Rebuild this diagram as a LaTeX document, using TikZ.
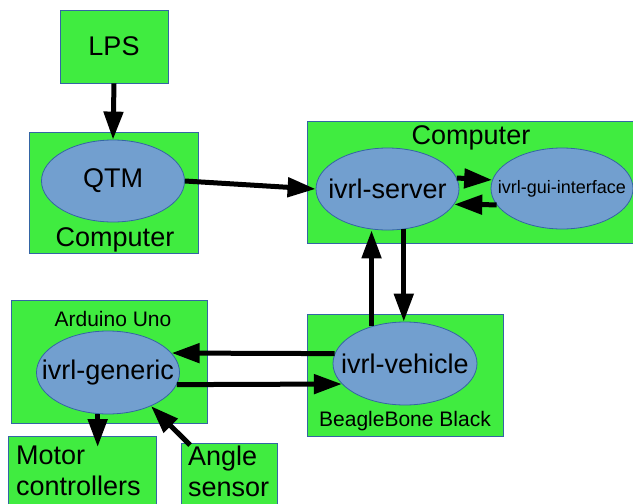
\documentclass[tikz,border=0pt]{standalone}
\usepackage{fontspec}
\setmainfont{Liberation Sans}
\usetikzlibrary{arrows.meta,shapes.geometric}

\definecolor{boardgreen}{RGB}{64,236,64}
\definecolor{edgeblue}{RGB}{52,101,164}
\definecolor{procblue}{RGB}{114,159,207}

% program names must not stretch the ellipses
\newcommand\procname[1]{\makebox[0pt]{#1}}

\tikzset{
    bigtext/.style={font=\fontsize{27pt}{31pt}\selectfont},
    midtext/.style={font=\fontsize{21pt}{25pt}\selectfont},
    board/.style={rectangle, draw=edgeblue, fill=boardgreen, line width=0.8pt, inner sep=0pt},
    proc/.style={ellipse, draw=edgeblue, fill=procblue, line width=0.8pt, inner sep=0pt,
        minimum width=143pt, minimum height=82pt, bigtext},
    flow/.style={-{Triangle[length=28pt,width=19pt]}, line width=5pt},
}

\begin{document}
\begin{tikzpicture}[x=1pt, y=-1pt]
    \useasboundingbox (0,0) rectangle (633,504);
    \clip (0,0) rectangle (633,504);

    % boards
    \node[board, bigtext, minimum width=108pt, minimum height=73pt] (lps) at (114,46.5) {LPS};
    \node[board, minimum width=169pt, minimum height=121pt] (pcleft) at (113.5,192.5) {};
    \node[board, minimum width=340pt, minimum height=122pt] (pcright) at (477,182) {};
    \node[board, minimum width=196pt, minimum height=122pt] (bbb) at (405,375) {};
    \node[board, minimum width=196pt, minimum height=123pt] (uno) at (109,361.5) {};
    \node[board, anchor=north west, minimum width=148pt, minimum height=80pt] (motor) at (8,436) {};
    \node[board, anchor=north west, minimum width=96pt, minimum height=80pt] (angle) at (181,443) {};

    % board names
    \node[bigtext, anchor=base, inner sep=0pt] (pcleftname) at (115,246) {Computer};
    \node[bigtext, anchor=base, inner sep=0pt] (pcrightname) at (471,144) {Computer};
    \node[midtext, anchor=base, inner sep=0pt] (bbbname) at (405,426) {BeagleBone Black};
    \node[midtext, anchor=base, inner sep=0pt] (unoname) at (113,326) {Arduino Uno};
    \node[bigtext, anchor=north west, align=left, inner sep=0pt] (motorname) at (16,446) {Motor\\controllers};
    \node[bigtext, anchor=north west, align=left, inner sep=0pt] (anglename) at (188,446) {Angle\\sensor};

    % programs
    \node[proc] (qtm) at (113,181) {\procname{QTM}};
    \node[proc] (server) at (387.5,189) {\procname{ivrl-server}};
    \node[proc, minimum width=142pt, minimum height=81pt, font=\fontsize{18pt}{22pt}\selectfont] (gui) at (562,188.5) {\procname{ivrl-gui-interface}};
    \node[proc, minimum width=144pt, minimum height=83pt] (vehicle) at (405,363.5) {\procname{ivrl-vehicle}};
    \node[proc, minimum height=83pt] (generic) at (108,372.5) {\procname{ivrl-generic}};

    % links
    \draw[flow] (lps.south) -- (qtm.north);
    \draw[flow] (qtm.east) -- (server.west);
    \draw[flow] (server.9) -- (gui.173);
    \draw[flow] (gui.194) -- (server.-13);
    \draw[flow] (vehicle.132) -- (vehicle.132 |- server.south);
    \draw[flow] (server.-68) -- (server.-68 |- vehicle.north);
    \draw[flow] (vehicle.172) -- (generic.17);
    \draw[flow] (generic.-10) -- (vehicle.198);
    \draw[flow, shorten >=-11pt] (generic.-104) -- (generic.-104 |- motor.north);
    \draw[flow] ([xshift=9pt, yshift=-2pt]angle.north west) -- (generic.-38);
\end{tikzpicture}
\end{document}
